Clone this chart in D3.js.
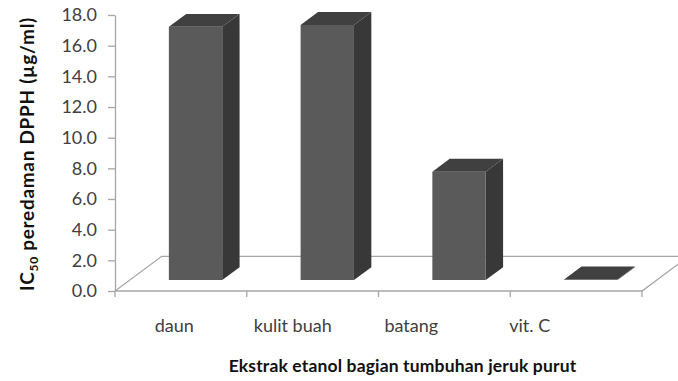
<!DOCTYPE html>
<html>
<head>
<meta charset="utf-8">
<script src="https://cdn.jsdelivr.net/npm/d3@7"></script>
<style>
  html, body { margin: 0; padding: 0; background: #fff; }
  svg { display: block; font-family: Lato, "Open Sans", sans-serif; }
</style>
</head>
<body>
<svg id="chart" width="678" height="381"></svg>
<script>
// IC50 of DPPH scavenging per ethanol extract of kaffir lime parts
const categories = ["daun", "kulit buah", "batang", "vit. C"];
const ic50 = [16.52, 16.64, 7.07, 0.04];
const yTicks = [0, 2, 4, 6, 8, 10, 12, 14, 16, 18];
const yTitleMain = "IC";
const yTitleSub = "50";
const yTitleRest = " peredaman DPPH (µg/ml)";
const xTitle = "Ekstrak etanol bagian tumbuhan jeruk purut";

const svg = d3.select("#chart");

// front plane scales
const x = d3.scaleBand().domain(categories).range([115, 642]).paddingInner(0).paddingOuter(0);
const y = d3.scaleLinear().domain([0, 18]).range([291, 15]);
// category labels sit on a tighter band than the bars (perspective placement)
const xLabel = d3.scaleBand().domain(categories).range([115, 589]).paddingInner(0).paddingOuter(0);

// oblique depth of the floor (screen offset at full depth)
const DX = 46.7, DY = 34.7;
const zFront = 0.314, zBack = 0.686;
const barFrac = 0.405;

function proj(px, v, z) {
  return [px + z * DX, y(v) - z * DY];
}

// floor
const floorPts = [
  proj(x.range()[0], 0, 0),
  proj(x.range()[1], 0, 0),
  proj(x.range()[1], 0, 1),
  proj(x.range()[0], 0, 1)
];
svg.append("polygon")
  .attr("points", floorPts.map(p => p.join(",")).join(" "))
  .attr("fill", "#fff")
  .attr("stroke", "#a6a6a6")
  .attr("stroke-width", 1.3);

// category boundary ticks on the front edge
const bounds = [x.range()[0]].concat(categories.map(c => x(c) + x.bandwidth()));
svg.append("g").selectAll("line").data(bounds).join("line")
  .attr("x1", d => d).attr("x2", d => d)
  .attr("y1", y(0)).attr("y2", y(0) + 6)
  .attr("stroke", "#a6a6a6").attr("stroke-width", 1.3);

// value axis
const yAxis = svg.append("g")
  .attr("transform", `translate(${x.range()[0]},0)`)
  .call(d3.axisLeft(y).tickValues(yTicks).tickFormat(d3.format(".1f"))
    .tickSize(7).tickSizeOuter(0).tickPadding(11));
yAxis.select(".domain").attr("stroke", "#a6a6a6").attr("stroke-width", 1.3);
yAxis.selectAll(".tick line").attr("stroke", "#a6a6a6").attr("stroke-width", 1.3);
yAxis.selectAll(".tick text")
  .attr("font-size", 18).attr("fill", "#404040")
  .attr("font-family", "Lato, 'Open Sans', sans-serif");

// 3D bars
const data = categories.map((c, i) => ({ c, v: ic50[i] }));
const bars = svg.append("g").selectAll("g").data(data).join("g");

bars.each(function (d) {
  const g = d3.select(this);
  const bw = x.bandwidth() * barFrac;
  const x0 = x(d.c) + (x.bandwidth() - bw) / 2;
  const x1 = x0 + bw;
  const fBL = proj(x0, 0, zFront), fBR = proj(x1, 0, zFront);
  const fTL = proj(x0, d.v, zFront), fTR = proj(x1, d.v, zFront);
  const bBR = proj(x1, 0, zBack), bTR = proj(x1, d.v, zBack), bTL = proj(x0, d.v, zBack);
  const poly = pts => pts.map(p => p.join(",")).join(" ");
  // side face
  g.append("polygon").attr("points", poly([fBR, bBR, bTR, fTR])).attr("fill", "#383838");
  // front face
  g.append("polygon").attr("points", poly([fBL, fBR, fTR, fTL])).attr("fill", "#5a5a5a");
  // top face
  g.append("polygon").attr("points", poly([fTL, fTR, bTR, bTL])).attr("fill", "#404040");
});

// category labels
svg.append("g").selectAll("text").data(categories).join("text")
  .attr("x", d => xLabel(d) + xLabel.bandwidth() / 2)
  .attr("y", 332)
  .attr("text-anchor", "middle")
  .attr("font-size", 18)
  .attr("fill", "#404040")
  .text(d => d);

// x axis title
svg.append("text")
  .attr("x", 402.5).attr("y", 372)
  .attr("text-anchor", "middle")
  .attr("font-size", 17.5).attr("font-weight", "bold")
  .attr("letter-spacing", 0.15)
  .attr("fill", "#111")
  .text(xTitle);

// y axis title
const yt = svg.append("text")
  .attr("transform", "translate(34,154) rotate(-90)")
  .attr("text-anchor", "middle")
  .attr("font-size", 19).attr("font-weight", "bold")
  .attr("letter-spacing", 0.7)
  .attr("fill", "#111");
yt.append("tspan").text(yTitleMain);
yt.append("tspan").attr("font-size", 12).attr("dy", 4).text(yTitleSub);
yt.append("tspan").attr("dy", -4).text(yTitleRest);
</script>
</body>
</html>
